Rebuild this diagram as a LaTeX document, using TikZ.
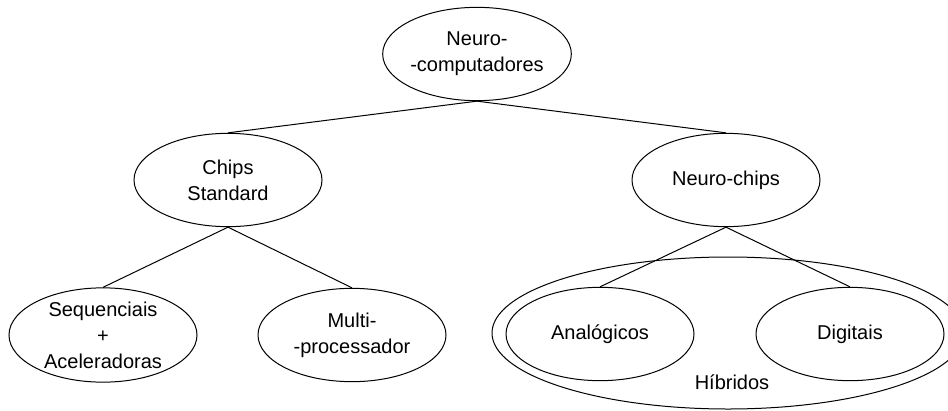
\documentclass[tikz,border=0pt]{standalone}
\usepackage{fontspec}
\setmainfont{Liberation Sans}
\usetikzlibrary{shapes.geometric,positioning}

\begin{document}
\begin{tikzpicture}[
    x=0.75pt, y=-0.75pt,
    font=\fontsize{15}{19.5}\selectfont,
    line width=0.75pt,
    bubble/.style={draw, ellipse, align=center, inner sep=0pt, minimum width=141pt, minimum height=70pt},
    group/.style={draw, ellipse, inner sep=0pt, minimum width=354pt, minimum height=114pt}
]
\useasboundingbox (0,0) rectangle (948,410);

\node[bubble] (root) at (477,54) {Neuro-\\-computadores};
\node[bubble] (std) at (228,180) {Chips\\Standard};
\node[bubble] (nchips) at (726,180) {Neuro-chips};
\node[bubble] (seq) at (103,335) {Sequenciais\\+\\Aceleradoras};
\node[bubble] (multi) at (352,335) {Multi-\\-processador};
\node[group] (hyb) at (728,333) {};
\node[bubble] (analog) at (600,334) {Analógicos};
\node[bubble] (digit) at (850,334) {Digitais};
\node (hyblabel) at (732,382) {Híbridos};

\draw (root.south) -- (std.north);
\draw (root.south) -- (nchips.north);
\draw (std.south) -- (seq.north);
\draw (std.south) -- (multi.north);
\draw (nchips.south) -- (analog.north);
\draw (nchips.south) -- (digit.north);
\end{tikzpicture}
\end{document}
